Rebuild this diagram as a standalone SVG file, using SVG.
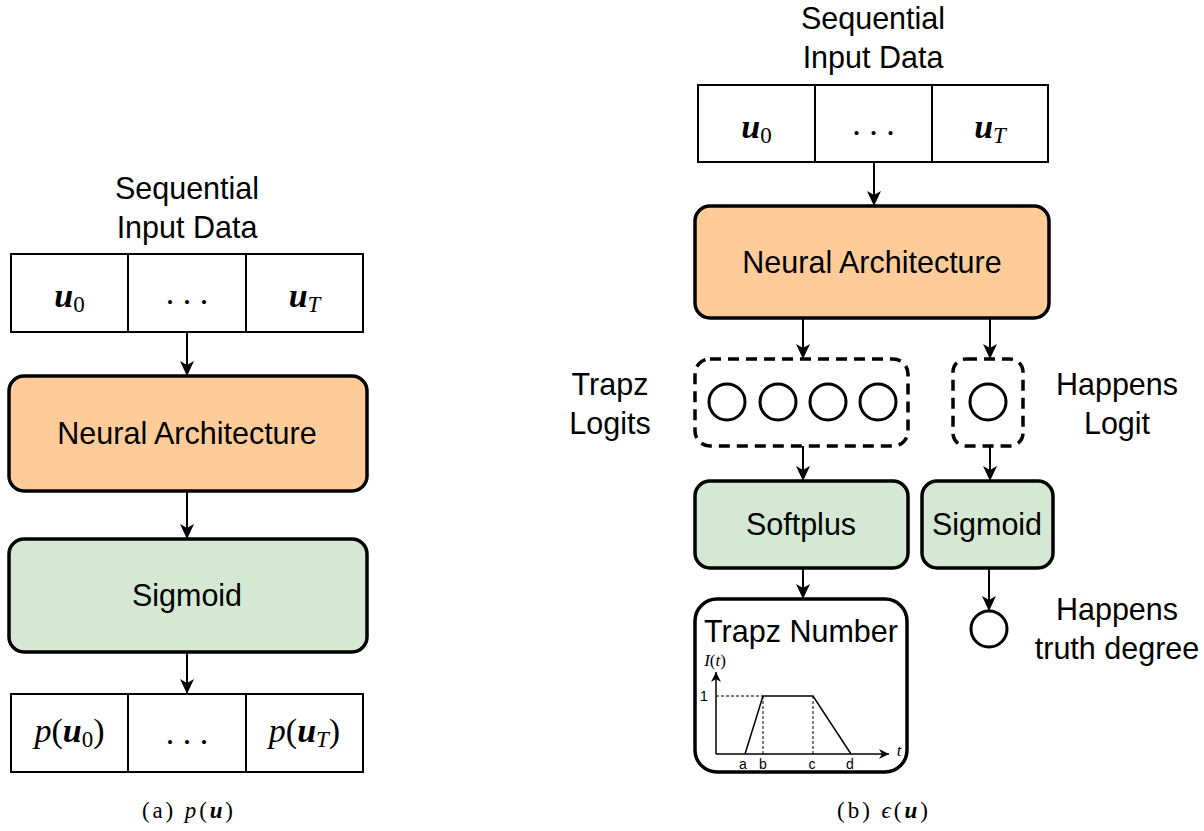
<svg xmlns="http://www.w3.org/2000/svg" width="1204" height="831" viewBox="0 0 1204 831">
<defs>
<marker id="arr" markerUnits="userSpaceOnUse" markerWidth="20" markerHeight="20" refX="16" refY="8" orient="auto">
<path d="M16,8 L1,1 L5,8 L1,15 Z" fill="#000"/>
</marker>
<marker id="sarr" markerUnits="userSpaceOnUse" markerWidth="12" markerHeight="12" refX="10" refY="5" orient="auto">
<path d="M10,5 L0,0 L3,5 L0,10 Z" fill="#000"/>
</marker>
<style>
.lbl{font-family:"Liberation Sans",Arial,sans-serif;font-size:30.5px;fill:#000;text-anchor:middle}
.math{font-family:"Liberation Serif","Times New Roman",serif;font-size:34px;fill:#000;text-anchor:middle}
.cap{font-family:"Liberation Serif","Times New Roman",serif;font-size:23px;fill:#000}
.bi{font-weight:bold;font-style:italic}
.it{font-style:italic}
.cell{fill:#fff;stroke:#000;stroke-width:2}
.orange{fill:#ffcc99;stroke:#000;stroke-width:3.5}
.green{fill:#d5e8d4;stroke:#000;stroke-width:3.5}
.dash{fill:none;stroke:#000;stroke-width:3.5;stroke-dasharray:11 7}
.circ{fill:#fff;stroke:#000;stroke-width:3}
.edge{stroke:#000;stroke-width:2;fill:none;marker-end:url(#arr)}
.small{font-family:"Liberation Sans",Arial,sans-serif;font-size:14px;fill:#000;text-anchor:middle}
</style>
</defs>

<!-- LEFT PANEL -->
<g id="left-title">
<text class="lbl" x="187" y="199">Sequential</text>
<text class="lbl" x="187" y="238">Input Data</text>
</g>
<g id="left-input">
<rect class="cell" x="11" y="254" width="117" height="78"/>
<rect class="cell" x="128" y="254" width="118" height="78"/>
<rect class="cell" x="246" y="254" width="117" height="78"/>
<text class="math" x="69.5" y="307"><tspan class="bi">u</tspan><tspan font-size="23" dy="5">0</tspan></text>
<text class="math" x="187" y="304">. . .</text>
<text class="math" x="304.5" y="307"><tspan class="bi">u</tspan><tspan class="it" font-size="23" dy="5">T</tspan></text>
</g>
<g id="left-nn">
<rect class="orange" x="9" y="376" width="358" height="115" rx="15"/>
<text class="lbl" x="187" y="444">Neural Architecture</text>
</g>
<g id="left-sigmoid">
<rect class="green" x="9" y="539" width="358" height="113" rx="15"/>
<text class="lbl" x="187" y="606">Sigmoid</text>
</g>
<g id="left-output">
<rect class="cell" x="11" y="694" width="117" height="78"/>
<rect class="cell" x="128" y="694" width="118" height="78"/>
<rect class="cell" x="246" y="694" width="117" height="78"/>
<text class="math" x="69.5" y="742"><tspan class="it">p</tspan>(<tspan class="bi">u</tspan><tspan font-size="23" dy="5">0</tspan><tspan dy="-5">)</tspan></text>
<text class="math" x="187" y="744">. . .</text>
<text class="math" x="304.5" y="742"><tspan class="it">p</tspan>(<tspan class="bi">u</tspan><tspan class="it" font-size="23" dy="5">T</tspan><tspan dy="-5">)</tspan></text>
</g>
<g id="caption-a">
<text class="cap" x="142" y="818" textLength="91" lengthAdjust="spacing">(a) <tspan class="it">p</tspan>(<tspan class="bi">u</tspan>)</text>
</g>

<!-- RIGHT PANEL -->
<g id="right-title">
<text class="lbl" x="873" y="29">Sequential</text>
<text class="lbl" x="873" y="68">Input Data</text>
</g>
<g id="right-input">
<rect class="cell" x="698" y="85" width="117" height="77"/>
<rect class="cell" x="815" y="85" width="117" height="77"/>
<rect class="cell" x="932" y="85" width="116" height="77"/>
<text class="math" x="756.5" y="138"><tspan class="bi">u</tspan><tspan font-size="23" dy="5">0</tspan></text>
<text class="math" x="873.5" y="135">. . .</text>
<text class="math" x="990" y="138"><tspan class="bi">u</tspan><tspan class="it" font-size="23" dy="5">T</tspan></text>
</g>
<g id="right-nn">
<rect class="orange" x="695" y="206" width="354" height="112" rx="15"/>
<text class="lbl" x="872" y="273">Neural Architecture</text>
</g>
<g id="trapz-logits">
<rect class="dash" x="695" y="359" width="213" height="87" rx="15"/>
<circle class="circ" cx="727" cy="402" r="18"/>
<circle class="circ" cx="778" cy="402" r="18"/>
<circle class="circ" cx="828" cy="402" r="18"/>
<circle class="circ" cx="878" cy="402" r="18"/>
</g>
<g id="trapz-logits-label">
<text class="lbl" x="610" y="395">Trapz</text>
<text class="lbl" x="610" y="434">Logits</text>
</g>
<g id="happens-logit">
<rect class="dash" x="953" y="359" width="70" height="87" rx="13"/>
<circle class="circ" cx="988" cy="402" r="18"/>
</g>
<g id="happens-logit-label">
<text class="lbl" x="1117" y="395">Happens</text>
<text class="lbl" x="1117" y="434">Logit</text>
</g>
<g id="softplus">
<rect class="green" x="695" y="481" width="213" height="87" rx="15"/>
<text class="lbl" x="801" y="535">Softplus</text>
</g>
<g id="right-sigmoid">
<rect class="green" x="922" y="481" width="131" height="87" rx="15"/>
<text class="lbl" x="987" y="535">Sigmoid</text>
</g>
<g id="trapz-number">
<rect fill="#fff" stroke="#000" stroke-width="3.5" x="695" y="599" width="212" height="173" rx="22"/>
<text class="lbl" x="801" y="642">Trapz Number</text>
<line x1="716" y1="754" x2="716" y2="672" stroke="#000" stroke-width="1.5" marker-end="url(#sarr)"/>
<line x1="716" y1="754" x2="889" y2="754" stroke="#000" stroke-width="1.5" marker-end="url(#sarr)"/>
<polyline points="745,754 763,696 813,696 851,754" fill="none" stroke="#000" stroke-width="1.5"/>
<line x1="716" y1="696" x2="763" y2="696" stroke="#000" stroke-width="1" stroke-dasharray="3 2"/>
<line x1="763" y1="696" x2="763" y2="754" stroke="#000" stroke-width="1" stroke-dasharray="3 2"/>
<line x1="813" y1="696" x2="813" y2="754" stroke="#000" stroke-width="1" stroke-dasharray="3 2"/>
<text class="small" x="704" y="701">1</text>
<text class="small" x="743" y="769">a</text>
<text class="small" x="763" y="769">b</text>
<text class="small" x="812" y="769">c</text>
<text class="small" x="850" y="769">d</text>
<text font-family="'Liberation Serif',serif" font-size="17" x="715" y="666" text-anchor="middle"><tspan font-style="italic">I</tspan>(<tspan font-style="italic">t</tspan>)</text>
<text font-family="'Liberation Serif',serif" font-size="17" font-style="italic" x="899" y="756" text-anchor="middle">t</text>
</g>
<g id="happens-truth">
<circle class="circ" cx="989" cy="629" r="18"/>
</g>
<g id="happens-truth-label">
<text class="lbl" x="1117" y="620">Happens</text>
<text class="lbl" x="1117" y="659">truth degree</text>
</g>
<g id="caption-b">
<text class="cap" x="837" y="818" textLength="91" lengthAdjust="spacing">(b) <tspan class="it">ϵ</tspan>(<tspan class="bi">u</tspan>)</text>
</g>

<!-- CONNECTORS -->
<g id="connectors">
<line class="edge" x1="187" y1="332" x2="187" y2="376"/>
<line class="edge" x1="187" y1="491" x2="187" y2="539"/>
<line class="edge" x1="187" y1="652" x2="187" y2="694"/>
<line class="edge" x1="874" y1="162" x2="874" y2="206"/>
<line class="edge" x1="803" y1="318" x2="803" y2="359"/>
<line class="edge" x1="990" y1="318" x2="990" y2="359"/>
<line class="edge" x1="803" y1="446" x2="803" y2="481"/>
<line class="edge" x1="990" y1="446" x2="990" y2="481"/>
<line class="edge" x1="803" y1="568" x2="803" y2="599"/>
<line class="edge" x1="989" y1="568" x2="989" y2="611"/>
</g>
</svg>
